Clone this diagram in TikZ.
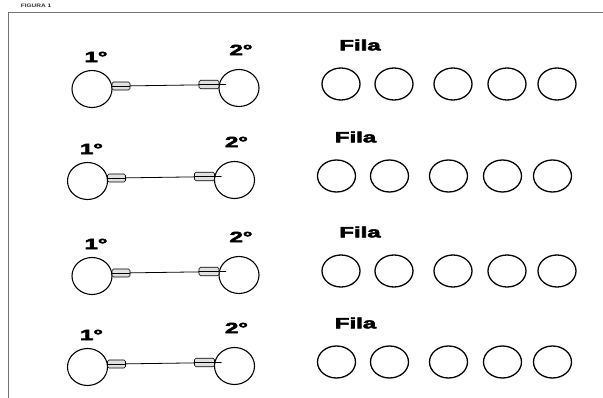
\documentclass[tikz,border=0pt]{standalone}
\usepackage{fontspec}
\setmainfont{Liberation Sans}
\newfontfamily\heavyfont{Liberation Sans}[BoldFeatures={FakeBold=3}]
\usetikzlibrary{shapes.geometric}
\begin{document}
\begin{tikzpicture}[x=1pt,y=-1pt,
  frameline/.style={draw=black!55, line width=1pt},
  ball/.style={draw, ellipse, line width=1.1pt, inner sep=0pt, minimum width=40pt, minimum height=37pt},
  seat/.style={draw, ellipse, line width=1.3pt, inner sep=0pt, minimum width=38pt, minimum height=32pt},
  capsule/.style={draw, line width=0.6pt, fill=black!12, rounded corners=1.5pt, inner sep=0pt, minimum width=18pt, minimum height=8pt,
    path picture={\draw[line width=0.5pt] (path picture bounding box.west) -- (path picture bounding box.east);}},
  wire/.style={draw, line width=0.8pt},
  lbl/.style={font=\heavyfont\bfseries\fontsize{15}{15}\selectfont, xscale=1.6, inner sep=0pt},
  titletext/.style={font=\bfseries\fontsize{5}{5}\selectfont, xscale=1.3, inner sep=0pt, text=black!80}]
\useasboundingbox (0,0) rectangle (603,398);
\fill[white] (0,0) rectangle (603,398);
% frame
\coordinate (fa) at (8,398);
\coordinate (fb) at (8,13);
\coordinate (fc) at (603,13);
\draw[frameline] (fa) -- (fb) -- (fc);
\node[titletext] (title) at (36,6) {FIGURA 1};
\foreach \r/\dx/\dy in {1/0/0, 2/-4.5/92, 3/0/187, 4/-4.5/278}{
  \begin{scope}[shift={(\dx,\dy)}]
    \node[ball] (L\r) at (92,89) {};
    \node[ball] (R\r) at (239,88) {};
    \node[lbl] (one\r) at (96,57) {1°};
    \node[lbl] (two\r) at (241,50) {2°};
    \coordinate (tip\r) at (226,84.5);
    \draw[wire] (121,86) -- (tip\r);
    \node[capsule] (cl\r) at (121,86) {};
    \node[capsule, minimum width=20pt, minimum height=8.5pt] (cr\r) at (209,84.5) {};
    \node[lbl] (fila\r) at (360,45) {Fila};
    \foreach \i/\x in {1/341, 2/394, 3/453, 4/507, 5/557}{
      \node[seat] (s\r\i) at (\x,84) {};
    }
  \end{scope}
}
\end{tikzpicture}
\end{document}
